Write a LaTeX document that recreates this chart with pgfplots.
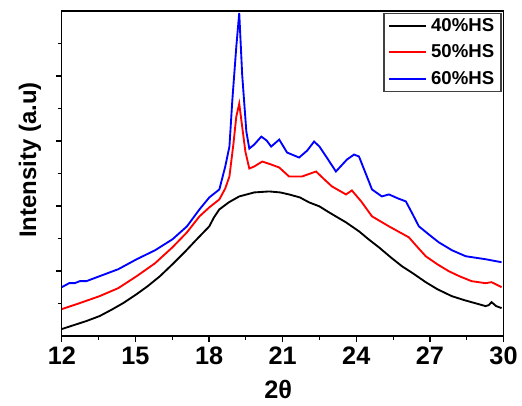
\documentclass[border=0pt]{standalone}
\usepackage{pgfplots}
\pgfplotsset{compat=1.18}
\usepackage{fontspec}
\setmainfont{Liberation Sans}

\pgfplotstableread{
x y
12.00 7
12.50 11
13.00 15
13.54 20
14.00 26
14.50 33
15.05 42
15.50 50
16.00 60
16.51 72
17.00 84
17.50 97
18.01 110
18.20 119
18.42 127
18.80 134
19.23 140
19.84 144
20.45 145
20.90 144
21.26 142
21.70 139
22.08 134
22.50 130
22.89 124
23.58 114
24.11 105
24.50 97
24.92 89
25.40 79
25.86 70
26.30 63
26.83 54
27.30 47
27.89 40
28.40 36
28.98 32
29.27 30
29.40 31
29.51 34
29.70 30
29.92 28
}\blackdata

\pgfplotstableread{
x y
12.00 27
12.73 33
13.54 40
14.30 48
15.05 60
15.80 73
16.51 89
17.10 104
17.61 120
18.01 129
18.42 137
18.66 148
18.83 160
18.99 192
19.11 220
19.23 233
19.35 210
19.48 185
19.64 168
19.84 170
20.17 175
20.53 172
20.86 169
21.26 160
21.79 160
22.36 165
22.70 157
23.01 150
23.58 142
23.82 146
24.20 135
24.64 120
25.33 110
26.14 99
26.50 89
26.83 80
27.30 72
27.77 65
28.20 60
28.70 55
29.27 53
29.51 54
29.92 49
}\reddata

\pgfplotstableread{
x y
12.00 49
12.30 53
12.53 53
12.73 55
13.00 55
13.54 60
14.30 67
15.05 77
15.80 86
16.51 97
17.10 110
17.61 127
18.01 139
18.42 147
18.66 170
18.83 190
18.95 237
19.11 290
19.23 324
19.35 262
19.52 205
19.64 188
19.84 192
20.13 200
20.35 196
20.53 190
20.86 197
21.18 184
21.67 179
22.00 186
22.28 195
22.50 190
22.77 180
23.17 165
23.62 177
23.91 182
24.11 180
24.40 162
24.64 147
25.04 140
25.33 142
25.70 138
26.02 135
26.30 122
26.55 110
27.00 101
27.36 94
27.90 86
28.46 80
29.27 77
29.92 74
}\bluedata

\begin{document}
\begin{tikzpicture}
\begin{axis}[
  scale only axis,
  width=332.25pt, height=244.5pt,
  xmin=12, xmax=30, ymin=0, ymax=326,
  xtick={12,15,...,30},
  minor x tick num=1,
  ytick={65.2,130.4,195.6,260.8},
  minor ytick={32.6,97.8,163,228.2,293.4},
  yticklabels={},
  tick align=outside,
  tick pos=left,
  major tick length=4.5pt, minor tick length=3pt,
  axis line style={line width=1pt},
  tick style={black, line width=0.9pt},
  tick label style={font=\bfseries\fontsize{19}{22}\selectfont},
  /pgf/number format/assume math mode=true,
  xlabel={2θ}, ylabel={Intensity (a.u)},
  xlabel style={font=\bfseries\fontsize{19}{22}\selectfont, at={(axis description cs:0.49,-0.163)}, anchor=center},
  ylabel style={font=\bfseries\fontsize{18}{22}\selectfont, at={(axis description cs:-0.072,0.541)}, anchor=center},
  legend cell align=left,
  legend style={at={(axis description cs:0.9955,0.995)}, anchor=north east,
    draw=black!75, line width=1pt,
    inner xsep=3pt, inner ysep=2pt, row sep=4.5pt, column sep=1pt,
    font=\bfseries\fontsize{14}{16}\selectfont},
  legend image code/.code={\draw[#1, line width=1.5pt] (0pt,0pt) -- (28pt,0pt);},
  every axis plot/.append style={line width=1.4pt},
]
\addplot[black] table[x=x,y=y] {\blackdata};
\addplot[red] table[x=x,y=y] {\reddata};
\addplot[blue] table[x=x,y=y] {\bluedata};
\legend{40\%HS, 50\%HS, 60\%HS}
\end{axis}
\path (current axis.south west) ++(-46.5pt,-52.5pt) (current axis.north east) ++(12.75pt,8.25pt);
\end{tikzpicture}
\end{document}
